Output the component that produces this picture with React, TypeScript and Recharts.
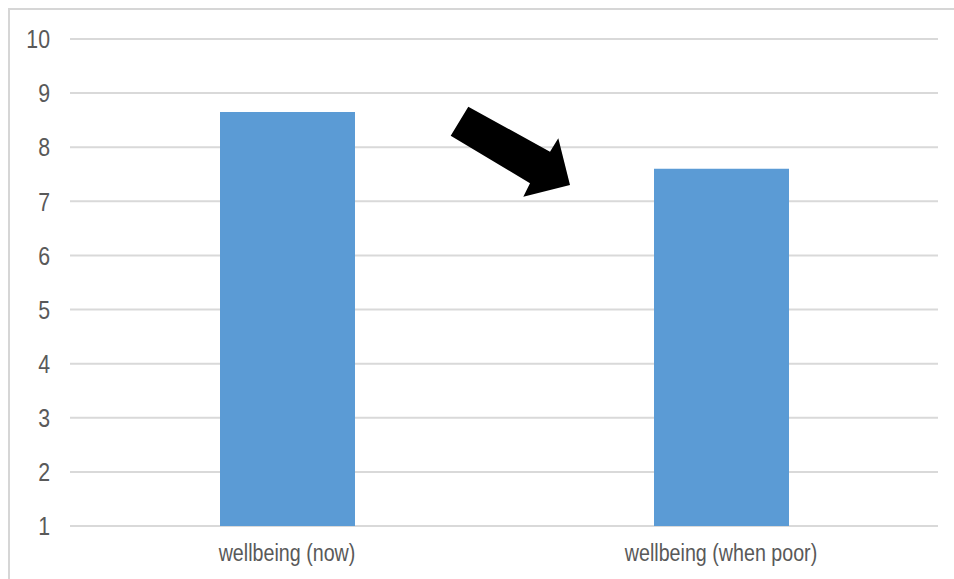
import { BarChart, Bar, XAxis, YAxis, CartesianGrid } from "recharts";

const categories = ["wellbeing (now)", "wellbeing (when poor)"];
const wellbeing = [8.65, 7.6];
const yTicks = [1, 2, 3, 4, 5, 6, 7, 8, 9, 10];

const data = categories.map((name, i) => ({ name, value: wellbeing[i] }));

const FONT = '"Liberation Sans", Arial, sans-serif';
const NARROW = 0.82;

// Arial Narrow look: Liberation Sans squeezed horizontally
function NarrowTick(props: any) {
  const { x, y, payload, textAnchor, dy, fontSize } = props;
  return (
    <g transform={`translate(${x},${y}) scale(${NARROW},1)`}>
      <text
        x={0}
        y={0}
        dy={dy}
        textAnchor={textAnchor}
        fontSize={fontSize}
        fontFamily={FONT}
        fill="#595959"
      >
        {payload.value}
      </text>
    </g>
  );
}

export default function App() {
  // the chart box is cut by the window edge on the right and bottom
  return (
    <div style={{ position: "relative", width: 954, height: 579, overflow: "hidden", background: "#fff" }}>
      <style>{"html,body{margin:0;overflow:hidden;background:#fff}"}</style>
      <BarChart
        width={938}
        height={571}
        data={data}
        margin={{ top: 31, right: 8, bottom: 23, left: 0 }}
        style={{ position: "absolute", left: 8, top: 8 }}
      >
        <CartesianGrid vertical={false} stroke="#d9d9d9" strokeWidth={2} />
        <XAxis
          dataKey="name"
          axisLine={false}
          tickLine={false}
          height={30}
          tickMargin={12}
          tick={<NarrowTick fontSize={24} dy="0.71em" />}
        />
        <YAxis
          domain={[1, 10]}
          ticks={yTicks}
          interval={0}
          width={62}
          axisLine={false}
          tickLine={false}
          tickMargin={14}
          tick={<NarrowTick fontSize={26} dy="0.355em" />}
        />
        <Bar dataKey="value" fill="#5b9bd5" barSize={135} isAnimationActive={false} />
      </BarChart>
      {/* frame (top and left edges only) and arrow annotation */}
      <svg
        width={954}
        height={579}
        style={{ position: "absolute", left: 0, top: 0, pointerEvents: "none" }}
      >
        <rect x={8} y={8} width={946} height={2} fill="#d6d6d6" />
        <rect x={8} y={8} width={2} height={571} fill="#d6d6d6" />
        <polygon
          points="468.3,106.7 450.7,135.7 530,183.3 523.3,196.7 570,185 558.3,138.3 550,151.7"
          fill="#000"
        />
      </svg>
    </div>
  );
}
